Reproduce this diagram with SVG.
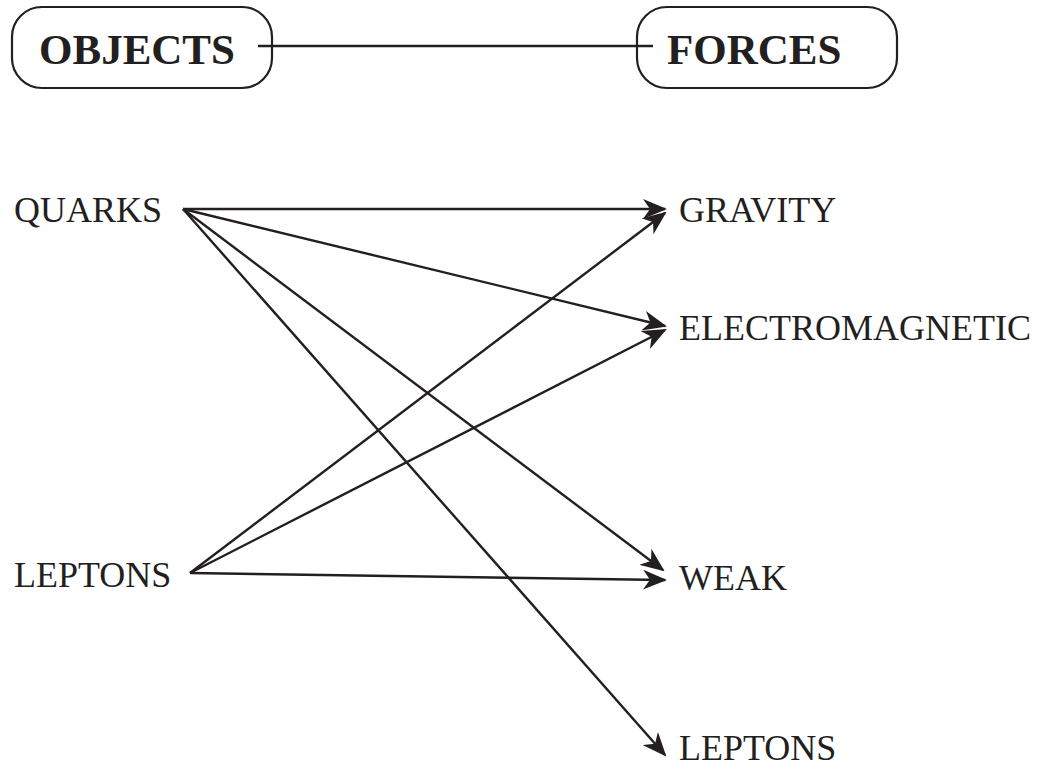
<svg xmlns="http://www.w3.org/2000/svg" width="1047" height="781" viewBox="0 0 1047 781">
<style>
.box{fill:none;stroke:#231f20;stroke-width:2.2}
.hd{font-family:"Liberation Serif",serif;font-weight:bold;font-size:43px;fill:#231f20}
.lb{font-family:"Liberation Serif",serif;font-size:36px;fill:#231f20}
.c{stroke:#231f20;stroke-width:2.4;fill:none}
</style>
<defs>
<marker id="ah" viewBox="0 0 24 20" refX="22" refY="10" markerWidth="24" markerHeight="20" markerUnits="userSpaceOnUse" orient="auto">
<path d="M0,0 L24,10 L0,20 L7,10 Z" fill="#231f20"/>
</marker>
</defs>
<g id="connectors">
<line class="c" x1="258" y1="46" x2="653" y2="46"/>
<line class="c" x1="183" y1="209" x2="665" y2="209" marker-end="url(#ah)"/>
<line class="c" x1="183" y1="209" x2="665" y2="326" marker-end="url(#ah)"/>
<line class="c" x1="183" y1="209" x2="663" y2="570" marker-end="url(#ah)"/>
<line class="c" x1="183" y1="209" x2="665" y2="755" marker-end="url(#ah)"/>
<line class="c" x1="190" y1="573" x2="665" y2="213" marker-end="url(#ah)"/>
<line class="c" x1="190" y1="573" x2="665" y2="330" marker-end="url(#ah)"/>
<line class="c" x1="190" y1="573" x2="665" y2="580" marker-end="url(#ah)"/>
</g>
<g id="objects">
<rect class="box" x="12" y="7" width="260" height="81" rx="30"/>
<text class="hd" x="39" y="64">OBJECTS</text>
</g>
<g id="forces">
<rect class="box" x="637" y="7" width="260" height="81" rx="30"/>
<text class="hd" x="667" y="64">FORCES</text>
</g>
<g id="quarks"><text class="lb" x="14" y="222">QUARKS</text></g>
<g id="leptons-left"><text class="lb" x="14" y="587">LEPTONS</text></g>
<g id="gravity"><text class="lb" x="679" y="222">GRAVITY</text></g>
<g id="electromagnetic"><text class="lb" x="679" y="340">ELECTROMAGNETIC</text></g>
<g id="weak"><text class="lb" x="679" y="590">WEAK</text></g>
<g id="leptons-right"><text class="lb" x="679" y="760">LEPTONS</text></g>
</svg>
